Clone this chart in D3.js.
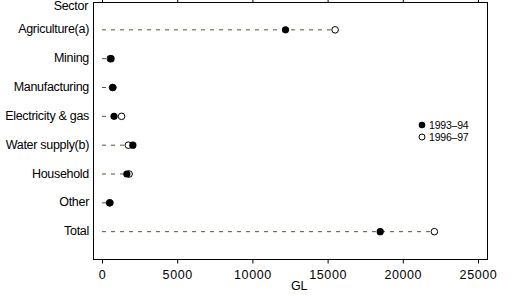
<!DOCTYPE html>
<html>
<head>
<meta charset="utf-8">
<script src="https://cdn.jsdelivr.net/npm/d3@7"></script>
<style>
  body { margin: 0; background: #fff; }
  svg { display: block; }
  text { font-family: "Liberation Sans", Arial, sans-serif; fill: #000; }
</style>
</head>
<body>
<svg id="chart" width="512" height="295"></svg>
<script>
var sectors = ["Agriculture(a)", "Mining", "Manufacturing", "Electricity & gas",
               "Water supply(b)", "Household", "Other", "Total"];
var use9394 = [12200, 600, 730, 800, 2050, 1650, 530, 18500];
var use9697 = [15500, 550, 700, 1300, 1750, 1800, 500, 22100];
var seriesNames = ["1993\u201394", "1996\u201397"];
var xTicks = [0, 5000, 10000, 15000, 20000, 25000];

var box = {left: 93, right: 487, top: 2, bottom: 259};

var svg = d3.select("#chart");

var xScale = d3.scaleLinear()
  .domain([-600, 25600])
  .range([box.left, box.right]);

var yScale = d3.scalePoint()
  .domain(sectors)
  .range([0.5, 260])
  .padding(1);

// frame
svg.append("rect")
  .attr("x", box.left + 0.5).attr("y", box.top + 0.5)
  .attr("width", box.right - box.left).attr("height", box.bottom - box.top)
  .attr("fill", "none").attr("stroke", "#000").attr("stroke-width", 1);

// bottom axis
var xAxis = d3.axisBottom(xScale).tickValues(xTicks).tickSize(4).tickSizeOuter(0)
  .tickFormat(d3.format("d"));
var gx = svg.append("g").attr("transform", "translate(0," + (box.bottom + 0.5) + ")").call(xAxis);
gx.select(".domain").remove();
gx.selectAll("text").attr("font-size", 12.5).attr("dy", "1.0em").attr("letter-spacing", 0.6)
  .style("font-family", "'Liberation Sans', Arial, sans-serif");

// top ticks
var gt = svg.append("g").attr("transform", "translate(0," + (box.top + 0.5) + ")")
  .call(d3.axisTop(xScale).tickValues(xTicks).tickSize(3).tickSizeOuter(0).tickFormat(""));
gt.select(".domain").remove();

// category labels
svg.selectAll(".cat")
  .data(sectors)
  .enter().append("text")
  .attr("class", "cat")
  .attr("x", box.left - 4)
  .attr("y", function(d) { return yScale(d) + 4; })
  .attr("text-anchor", "end")
  .attr("font-size", 12.5)
  .attr("letter-spacing", -0.3)
  .text(function(d) { return d; });

// axis title sits at the very top edge, as in the original
svg.append("text")
  .attr("x", box.left - 5).attr("y", 10)
  .attr("text-anchor", "end").attr("font-size", 12.5).attr("letter-spacing", -0.3)
  .text("Sector");

svg.append("text")
  .attr("x", xScale(13100)).attr("y", 290)
  .attr("text-anchor", "middle").attr("font-size", 12.5).attr("letter-spacing", -0.3)
  .text("GL");

// dashed leader lines
var rows = sectors.map(function(s, i) {
  return {name: s, a: use9394[i], b: use9697[i]};
});

svg.selectAll(".lead")
  .data(rows)
  .enter().append("line")
  .attr("class", "lead")
  .attr("x1", xScale(0)).attr("x2", function(d) { return xScale(Math.max(d.a, d.b)); })
  .attr("y1", function(d) { return yScale(d.name) + 0.5; })
  .attr("y2", function(d) { return yScale(d.name) + 0.5; })
  .attr("stroke", "#55553a").attr("stroke-width", 1)
  .attr("stroke-dasharray", "4,5");

// open points (1996-97)
svg.selectAll(".open")
  .data(rows)
  .enter().append("circle")
  .attr("class", "open")
  .attr("cx", function(d) { return xScale(d.b); })
  .attr("cy", function(d) { return yScale(d.name) + 0.5; })
  .attr("r", 3.3)
  .attr("fill", "#fff").attr("stroke", "#000").attr("stroke-width", 1);

// filled points (1993-94)
svg.selectAll(".fill")
  .data(rows)
  .enter().append("circle")
  .attr("class", "fill")
  .attr("cx", function(d) { return xScale(d.a); })
  .attr("cy", function(d) { return yScale(d.name) + 0.5; })
  .attr("r", 3.6)
  .attr("fill", "#000");

// legend
var leg = svg.append("g").attr("transform", "translate(422,125)");
leg.append("circle").attr("cx", 0).attr("cy", 0).attr("r", 3.3).attr("fill", "#000");
leg.append("circle").attr("cx", 0).attr("cy", 12).attr("r", 3)
  .attr("fill", "#fff").attr("stroke", "#000");
leg.selectAll("text")
  .data(seriesNames)
  .enter().append("text")
  .attr("x", 7)
  .attr("y", function(d, i) { return i * 12 + 3.5; })
  .attr("font-size", 10.5)
  .attr("letter-spacing", -0.2)
  .text(function(d) { return d; });
</script>
</body>
</html>
